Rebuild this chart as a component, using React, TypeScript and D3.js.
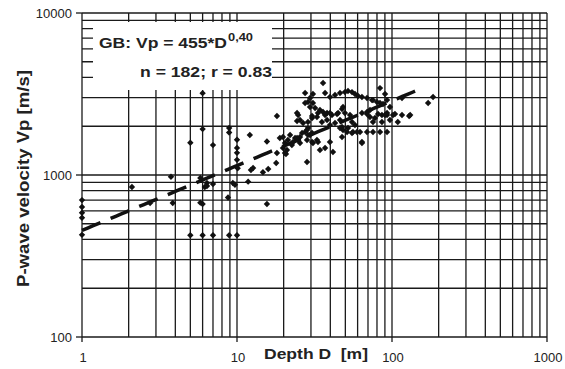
import React from "react";
import * as d3 from "d3";

// ---- data (Depth D [m], P-wave velocity Vp [m/s]) ----
const shallowPoints: [number, number][] = [
  [1, 700], [1, 635], [1, 585], [1, 545], [1, 427],
  [2.1, 843], [2.75, 671], [3.75, 975], [3.85, 672],
  [5, 1580], [5, 425], [6, 425], [7, 425], [8.9, 425], [10, 425],
  [6, 3200], [6, 1920], [6.2, 843], [6, 662], [7, 1530], [7, 880],
  [6.4, 893], [6.4, 855], [5.8, 958], [5.8, 675],
  [8.9, 1950], [8.9, 1830], [8.75, 726], [9.4, 893], [9.7, 870],
  [10, 1650], [10, 1470], [10, 1370], [10, 1240], [10.1, 1100],
];
const midPoints: [number, number][] = [
  [12.1, 1766], [18.1, 2312], [18.9, 1692], [15.6, 1610], [12.7, 1104],
  [14.7, 1040], [15.9, 1090], [17.9, 1185], [18.1, 1367], [11.8, 910],
  [15.6, 662], [12.3, 1074], [19.8, 1717], [19.8, 1468], [20.4, 1576],
  [20.4, 1367], [20.7, 1348],
];
const densePoints: [number, number][] = [
  [24.8, 2345], [24.4, 2155], [28.3, 1202], [22, 1766], [23.7, 1692], [25.5, 1717],
  [27.5, 1843], [28.3, 1645], [29.6, 1766], [30.5, 1600], [32.8, 1645], [34.3, 1427],
  [37, 1468], [39.8, 1600], [41.6, 1387], [64, 1600],
  [35.9, 3700], [27.5, 3205], [30.9, 3160], [37, 3205],
  [29.6, 2985], [28.7, 2825], [27.5, 2783], [30.9, 2783],
  [39.8, 3030], [42.9, 3120], [46.2, 3205], [49.7, 3250], [52, 3300], [55.2, 3250],
  [57.7, 3160], [60.4, 3075], [64, 3030], [69, 2985], [74.3, 2900], [80, 2825],
  [83.7, 2783], [87.5, 2742], [83.7, 3440],
  [29.6, 2630], [31.9, 2594], [34.3, 2518], [35.9, 2447], [38.1, 2415], [41, 2345],
  [44.2, 2380], [47.6, 2555], [48.3, 2630], [49.7, 2415],
  [24.4, 2415], [25.5, 2187], [26.7, 2095], [28.7, 2125], [30.5, 2248], [32.8, 2280],
  [35.3, 2125], [38.1, 2187], [39.8, 2037], [42.9, 2095],
  [46.2, 2187], [47.6, 1977], [48.3, 1896], [52, 1950], [55.2, 2125], [57.7, 2037],
  [64, 2415], [69, 2447], [72.1, 2280], [77.6, 2248], [86.1, 2345], [92.9, 2415],
  [56, 1843], [62.2, 1843], [69, 1843], [75.4, 1843], [83.7, 1843], [92.9, 1843],
  [21.3, 1645], [23, 1599], [24.8, 1645], [26.3, 1816], [28.3, 1896], [28.7, 1766],
  [30.5, 1816], [30.9, 1576], [33.3, 1599], [46.2, 1950], [47.6, 1717], [51.3, 1843],
  [55.2, 1816], [64, 1576], [59.4, 1843],
  [30.5, 2312], [33.3, 2415], [37, 2345], [39.8, 2415], [44.9, 2415], [53.6, 2345],
  [69, 2380], [81.3, 2380], [92.9, 2345],
  [28.7, 1950], [22.6, 1531], [25.5, 1576], [24.4, 1692], [21, 1427],
];
const deepPoints: [number, number][] = [
  [90.2, 3160], [184, 3030], [171, 2783], [75.4, 2900], [92.9, 2900], [116, 2985],
  [97, 2630], [90.2, 2345], [101.5, 2345], [116, 2345], [131, 2345], [104.5, 2380],
  [129, 2312], [75.4, 2125], [86.1, 2125], [97, 2187], [109, 2125], [72.1, 2518],
];

const xTickValues = [1, 10, 100, 1000];
const xTickLabels = ["1", "10", "100", "1000"];
const yTickValues = [100, 1000, 10000];
const yTickLabels = ["100", "1000", "10000"];

const fitCoef = 455;
const fitExp = 0.4;
const fitRange: [number, number] = [1, 150];

const eqText = "GB: Vp = 455*D";
const eqExpText = "0,40";
const statsText = "n = 182; r = 0.83";
const xTitle = "Depth D  [m]";
const yTitle = "P-wave velocity Vp [m/s]";

const FONT = "'Liberation Sans', Arial, sans-serif";
const INK = "#1a1a1a";

export default function App() {
  const W = 565, H = 369;
  const x = d3.scaleLog().domain([1, 1000]).range([82, 547]);
  const y = d3.scaleLog().domain([100, 10000]).range([337, 13]);

  const xGrid: number[] = [];
  [1, 10, 100].forEach((d) => { for (let m = 1; m <= 9; m++) xGrid.push(d * m); });
  xGrid.push(1000);
  const yGrid: number[] = [];
  [100, 1000].forEach((d) => { for (let m = 1; m <= 9; m++) yGrid.push(d * m); });
  yGrid.push(10000);

  const fitD = d3.range(0, 61).map((i) => fitRange[0] * Math.pow(fitRange[1] / fitRange[0], i / 60));
  const fitLine = d3.line<number>().x((d) => x(d)).y((d) => y(fitCoef * Math.pow(d, fitExp)))(fitD) || "";

  const allPoints = [...shallowPoints, ...midPoints, ...densePoints, ...deepPoints];
  const sym = d3.symbol().type(d3.symbolDiamond2).size(26)() || "";

  const [x0, x1] = x.range();
  const [y0, y1] = y.range();

  return (
    <svg width={W} height={H} style={{ position: "absolute", left: 0, top: 0, background: "#fff" }}>
      <rect x={0} y={0} width={W} height={H} fill="#fff" />
      {/* grid */}
      {xGrid.map((v, i) => (
        <line key={"gx" + i} x1={x(v)} x2={x(v)} y1={y1} y2={y0} stroke={INK} strokeWidth={1.3} />
      ))}
      {yGrid.map((v, i) => (
        <line key={"gy" + i} x1={x0} x2={x1} y1={y(v)} y2={y(v)} stroke={INK} strokeWidth={1.3} />
      ))}
      {/* ticks */}
      {xTickValues.map((v, i) => (
        <line key={"tx" + i} x1={x(v)} x2={x(v)} y1={y0} y2={y0 + 5} stroke={INK} strokeWidth={1.3} />
      ))}
      {yTickValues.map((v, i) => (
        <line key={"ty" + i} x1={x0 - 6} x2={x0} y1={y(v)} y2={y(v)} stroke={INK} strokeWidth={1.3} />
      ))}
      {/* legend box */}
      <rect x={93} y={22} width={179} height={68} fill="#fff" />
      <text x={99} y={48} fontFamily={FONT} fontSize={15} fontWeight="bold" fill="#222"
        textLength={128} lengthAdjust="spacingAndGlyphs">{eqText}</text>
      <text x={228} y={41} fontFamily={FONT} fontSize={10.5} fontWeight="bold" fill="#222"
        textLength={25} lengthAdjust="spacingAndGlyphs">{eqExpText}</text>
      <text x={140} y={77} fontFamily={FONT} fontSize={15} fontWeight="bold" fill="#222"
        textLength={132} lengthAdjust="spacingAndGlyphs">{statsText}</text>
      {/* fit line */}
      <path d={fitLine} fill="none" stroke="#111" strokeWidth={3.5} strokeDasharray="20,11" />
      {/* points */}
      {allPoints.map((p, i) => (
        <path key={"p" + i} d={sym} transform={`translate(${x(p[0])},${y(p[1])})`} fill="#111" />
      ))}
      {/* tick labels */}
      {xTickValues.map((v, i) => (
        <text key={"lx" + i} x={x(v) + 1} y={362} textAnchor="middle" fontFamily={FONT} fontSize={13} fill="#222">
          {xTickLabels[i]}
        </text>
      ))}
      {yTickValues.map((v, i) => (
        <text key={"ly" + i} x={72} y={y(v) + 4.5} textAnchor="end" fontFamily={FONT} fontSize={13} fill="#222">
          {yTickLabels[i]}
        </text>
      ))}
      {/* axis titles */}
      <text x={264} y={359} fontFamily={FONT} fontSize={15} fontWeight="bold" fill="#222"
        textLength={104} lengthAdjust="spacingAndGlyphs" style={{ whiteSpace: "pre" }}>{xTitle}</text>
      <text transform="translate(29,287) rotate(-90)" x={0} y={0} fontFamily={FONT} fontSize={16} fontWeight="bold" fill="#222"
        textLength={217} lengthAdjust="spacingAndGlyphs">{yTitle}</text>
    </svg>
  );
}
